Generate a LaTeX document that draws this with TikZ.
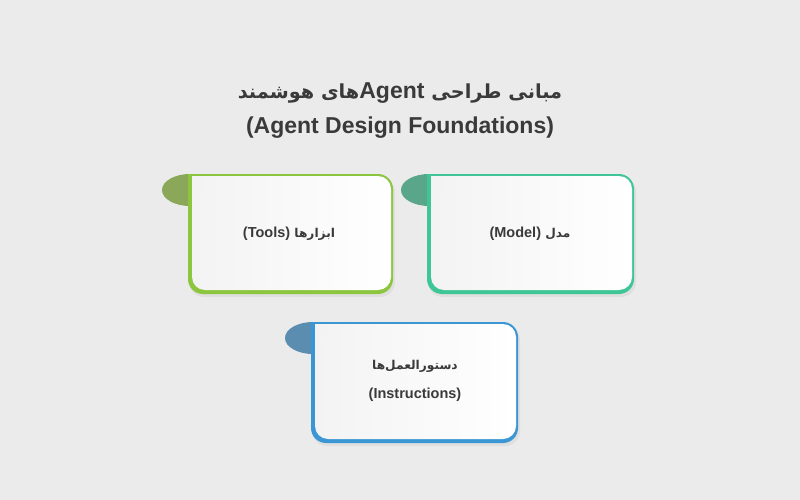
\documentclass[tikz,border=0pt]{standalone}
\usepackage{fontspec}
\setmainfont{Liberation Sans}
\newfontfamily\fa[Script=Arabic,Scale=0.84]{DejaVu Sans}
\TeXXeTstate=1
\definecolor{bg}{HTML}{EBEBEB}
\definecolor{txt}{HTML}{3A3A3A}
\definecolor{toolsc}{HTML}{8CC63F}
\definecolor{toolst}{HTML}{8BA85A}
\definecolor{modelc}{HTML}{3EC697}
\definecolor{modelt}{HTML}{5AA68A}
\definecolor{instc}{HTML}{3A97D4}
\definecolor{instt}{HTML}{5B8DB0}
\definecolor{cardA}{HTML}{F3F3F3}
\tikzset{
  title/.style={text=txt, font=\bfseries\fontsize{23}{27}\selectfont, align=center},
  label/.style={text=txt, font=\bfseries\fontsize{14.5}{17}\selectfont, align=center},
}
\newcommand\mycard[6]{%
  \fill[#6] ({#1+2},{#2+16}) ellipse [x radius=28, y radius=16];
  \fill[black, opacity=0.05, rounded corners=15] ({#1+1},{#2+3}) rectangle ({#3+2},{#4+3});
  \fill[#5, rounded corners=15] (#1,#2) rectangle (#3,#4);
  \fill[#5] (#1,#2) rectangle ({#1+20},{#2+20});
  \shade[left color=cardA, right color=white, rounded corners=13] ({#1+4},{#2+2}) rectangle ({#3-2},{#4-4});
  \fill[cardA] ({#1+4},{#2+2}) rectangle ({#1+18},{#2+18});
}
\begin{document}
\begin{tikzpicture}[x=1pt,y=-1pt]
\fill[bg] (0,0) rectangle (800,500);
\useasboundingbox (0,0) rectangle (800,500);
\node[title] (t1) at (400,93) {\fa\beginR مبانی طراحی \beginL{\rmfamily Agent}\endL های هوشمند\endR};
\node[title] (t2) at (400,128) {(Agent Design Foundations)};
\mycard{188}{174}{393}{294}{toolsc}{toolst}
\mycard{427}{174}{634}{294}{modelc}{modelt}
\mycard{311}{322}{518}{443}{instc}{instt}
\node[label] (tools) at (289,234) {\fa\beginR ابزارها \beginL{\rmfamily (Tools)}\endL\endR};
\node[label] (model) at (530,234) {\fa\beginR مدل \beginL{\rmfamily (Model)}\endL\endR};
\node[label] (inst1) at (415,366) {\fa\beginR دستورالعمل‌ها\endR};
\node[label] (inst2) at (415,395) {(Instructions)};
\end{tikzpicture}
\end{document}
